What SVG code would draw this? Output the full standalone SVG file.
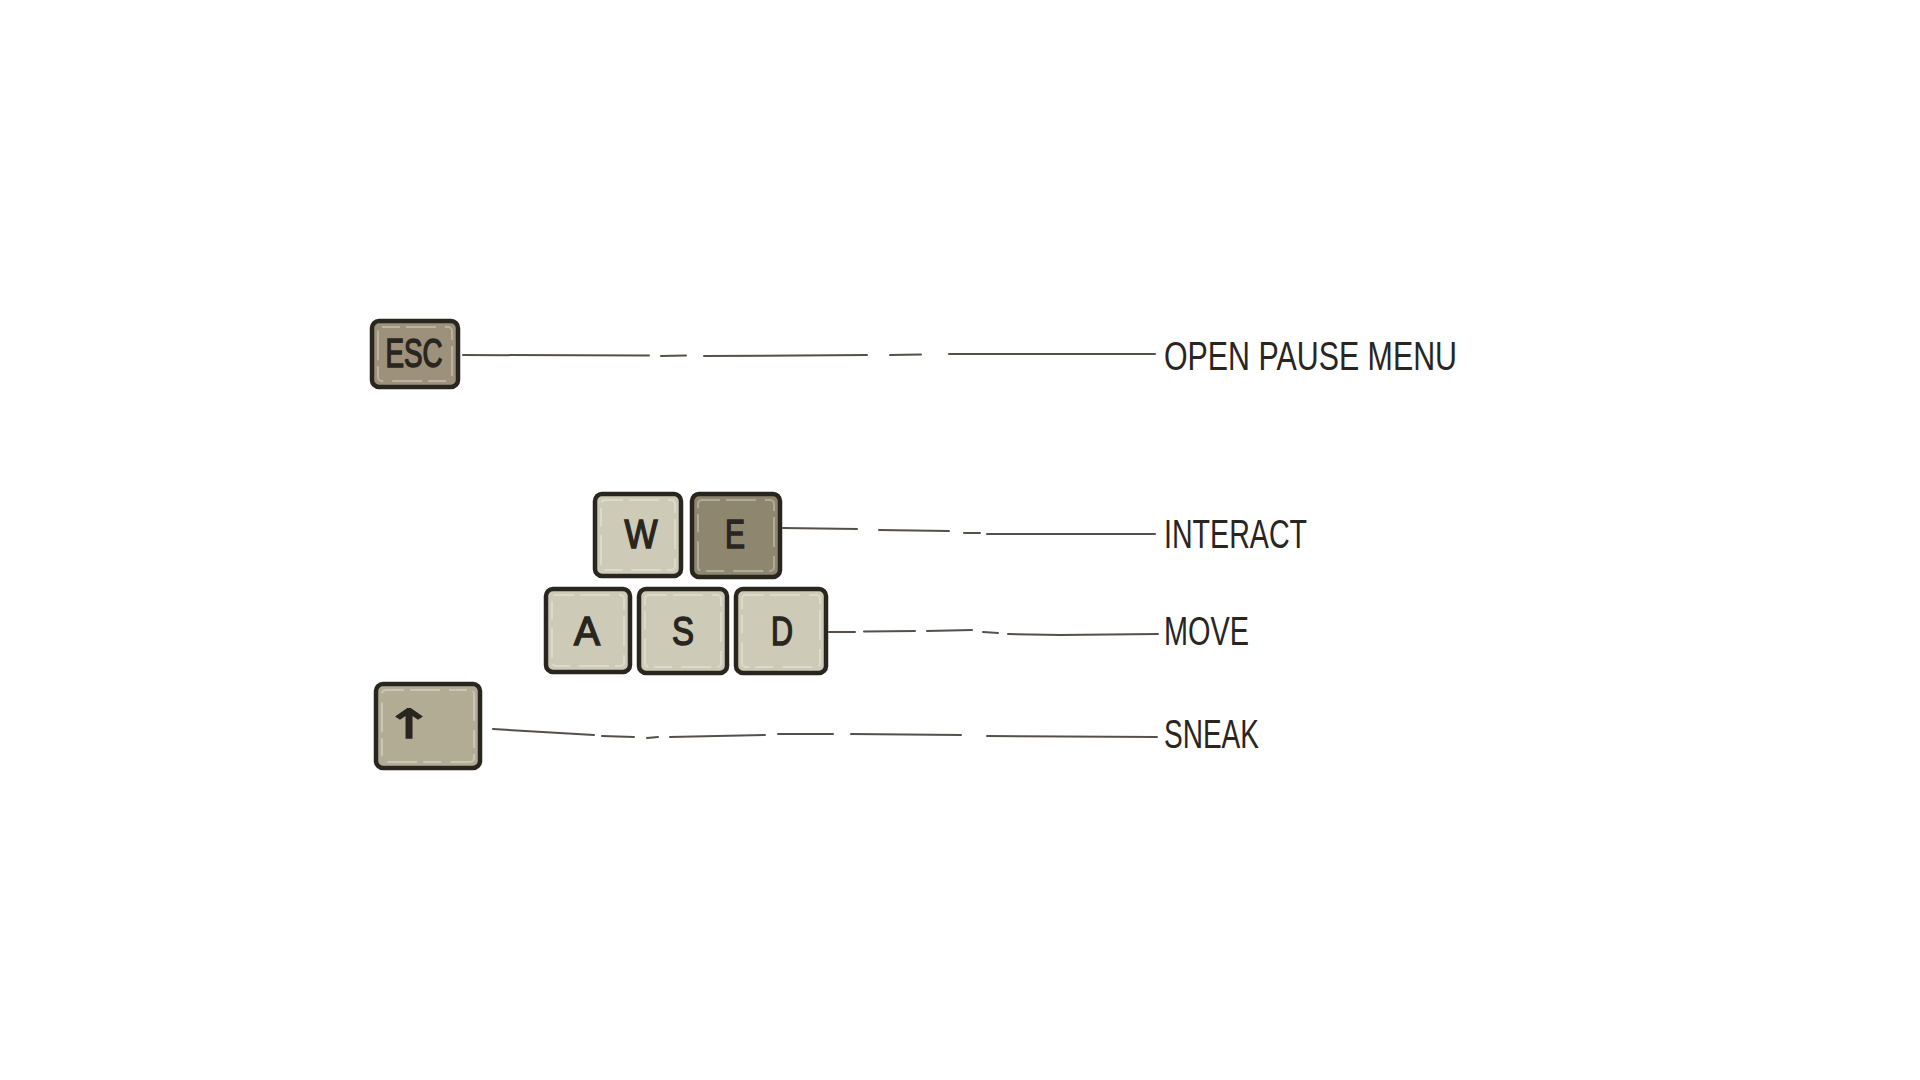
<svg xmlns="http://www.w3.org/2000/svg" width="1920" height="1080" viewBox="0 0 1920 1080">
<style>
.key{stroke:#29251f;stroke-width:4.5;stroke-linejoin:round}
.hl{fill:none;stroke:#ffffff;stroke-opacity:0.3;stroke-width:2;stroke-dasharray:18 6 30 9}
.kt{font-family:"Liberation Sans","DejaVu Sans",sans-serif;font-size:40px;fill:#29251f;stroke:#29251f;stroke-width:1.5;text-anchor:middle}
.lbl{font-family:"Liberation Sans","DejaVu Sans",sans-serif;font-size:41px;fill:#29251f}
.con{fill:none;stroke:#55514a;stroke-width:2;stroke-linecap:round}
</style>
<rect width="1920" height="1080" fill="#ffffff"/>
<g id="connectors">
<path class="con" d="M463 355 L649 355.5 M661 356 L686 355.5 M704 356 L867 355 M890 355 L921 354.5 M949 354 L1155 354"/>
<path class="con" d="M783 528 L857 529 M879 530 L949 531 M964 533 L980 533 M987 534 L1155 534"/>
<path class="con" d="M829 632 L855 632 M864 631.5 L915 631 M927 631 L972 630 M983 632 L998 633 M1008 634 L1060 635 L1158 634"/>
<path class="con" d="M493 729 L594 735 M602 736 L634 737 M647 738 L658 737 M670 737 L765 735 M778 734 L833 734 M851 734 L961 735 M987 736 L1157 737"/>
</g>
<g id="key-esc">
<rect class="key" x="372" y="321" width="86" height="66" rx="7" fill="#9e917b"/>
<rect class="hl" x="378" y="327" width="74" height="54" rx="4"/>
<text class="kt" x="414" y="367" font-size="46" textLength="57" lengthAdjust="spacingAndGlyphs">ESC</text>
</g>
<g id="key-w">
<rect class="key" x="595" y="494" width="86" height="82" rx="7" fill="#cdcbb8"/>
<rect class="hl" x="601" y="500" width="74" height="70" rx="4"/>
<text class="kt" x="641" y="548" textLength="33" lengthAdjust="spacingAndGlyphs">W</text>
</g>
<g id="key-e">
<rect class="key" x="692" y="494" width="88" height="83" rx="7" fill="#8f8670"/>
<rect class="hl" x="698" y="500" width="76" height="71" rx="4"/>
<text class="kt" x="735" y="548" textLength="20" lengthAdjust="spacingAndGlyphs">E</text>
</g>
<g id="key-a">
<rect class="key" x="546" y="589" width="84" height="83" rx="7" fill="#cdcbb8"/>
<rect class="hl" x="552" y="595" width="72" height="71" rx="4"/>
<text class="kt" x="587" y="645" textLength="26" lengthAdjust="spacingAndGlyphs">A</text>
</g>
<g id="key-s">
<rect class="key" x="639" y="589" width="88" height="84" rx="7" fill="#cdcbb8"/>
<rect class="hl" x="645" y="595" width="76" height="72" rx="4"/>
<text class="kt" x="683" y="645" textLength="22" lengthAdjust="spacingAndGlyphs">S</text>
</g>
<g id="key-d">
<rect class="key" x="736" y="589" width="90" height="84" rx="7" fill="#cdcbb8"/>
<rect class="hl" x="742" y="595" width="78" height="72" rx="4"/>
<text class="kt" x="782" y="645" textLength="22" lengthAdjust="spacingAndGlyphs">D</text>
</g>
<g id="key-shift">
<rect class="key" x="376" y="684" width="104" height="84" rx="7" fill="#b3ac95"/>
<rect class="hl" x="382" y="690" width="92" height="72" rx="4"/>
<text class="kt" transform="translate(409 738) scale(1.45 1)" x="0" y="0" font-size="50" stroke-width="3" style="font-family:'DejaVu Sans',sans-serif">↑</text>
</g>
<g id="labels">
<text class="lbl" x="1164" y="370" textLength="293" lengthAdjust="spacingAndGlyphs">OPEN PAUSE MENU</text>
<text class="lbl" x="1164" y="548" textLength="143" lengthAdjust="spacingAndGlyphs">INTERACT</text>
<text class="lbl" x="1164" y="645" textLength="85" lengthAdjust="spacingAndGlyphs">MOVE</text>
<text class="lbl" x="1164" y="748" textLength="95" lengthAdjust="spacingAndGlyphs">SNEAK</text>
</g>
</svg>
